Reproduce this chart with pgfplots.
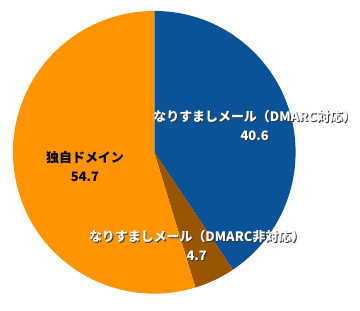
\documentclass[border=0pt]{standalone}
\usepackage{pgfplots}
\pgfplotsset{compat=1.18}
\usepackage{pgfplotstable}
\usepackage{fontspec}
\newfontfamily\cjk{Noto Sans CJK JP}
\definecolor{pblue}{HTML}{0A5399}
\definecolor{pbrown}{HTML}{9A5500}
\definecolor{porange}{HTML}{FF9400}
\pgfplotstableread{
idx value
0 40.6
1 4.7
2 54.7
}\piedata
\pgfplotstablegetelem{0}{value}\of\piedata \let\vA\pgfplotsretval
\pgfplotstablegetelem{1}{value}\of\piedata \let\vB\pgfplotsretval
\pgfplotstablegetelem{2}{value}\of\piedata \let\vC\pgfplotsretval
\pgfmathsetmacro\aA{90-3.6*\vA}
\pgfmathsetmacro\aB{\aA-3.6*\vB}
\pgfmathsetmacro\aC{\aB-3.6*\vC}
\pgfmathsetmacro\xA{cos(\aA)}
\pgfmathsetmacro\yA{sin(\aA)}
\pgfmathsetmacro\xB{cos(\aB)}
\pgfmathsetmacro\yB{sin(\aB)}
\newcommand\shadowlabel[3]{%
  \node[text=black!80, align=center, font=\cjk\bfseries\fontsize{13}{19}\selectfont] at ([xshift=0.9pt,yshift=-0.9pt]axis cs:#1,#2) {#3};
  \node[text=white, align=center, font=\cjk\bfseries\fontsize{13}{19}\selectfont] at (axis cs:#1,#2) {#3};}
\begin{document}
\begin{tikzpicture}
\begin{axis}[hide axis, scale only axis, x=142pt, y=142pt,
  xmin=-1.0915, xmax=1.4437, ymin=-1.0986, ymax=1.0775, clip=false]
\path (rel axis cs:0,0) rectangle (rel axis cs:1,1);
\fill[pblue] (axis cs:0,0) -- (axis cs:0,1) arc[start angle=90, end angle=\aA, radius=142pt] -- cycle;
\fill[pbrown] (axis cs:0,0) -- (axis cs:\xA,\yA) arc[start angle=\aA, end angle=\aB, radius=142pt] -- cycle;
\fill[porange] (axis cs:0,0) -- (axis cs:\xB,\yB) arc[start angle=\aB, end angle=\aC, radius=142pt] -- cycle;
\shadowlabel{0.71}{0.19}{なりすましメール（DMARC対応）\\40.6}
\node[text=black, align=center, font=\cjk\bfseries\fontsize{13}{19}\selectfont] at (axis cs:-0.49,-0.099) {独自ドメイン\\54.7};
\shadowlabel{0.30}{-0.662}{なりすましメール（DMARC非対応）\\4.7}
\end{axis}
\end{tikzpicture}
\end{document}
